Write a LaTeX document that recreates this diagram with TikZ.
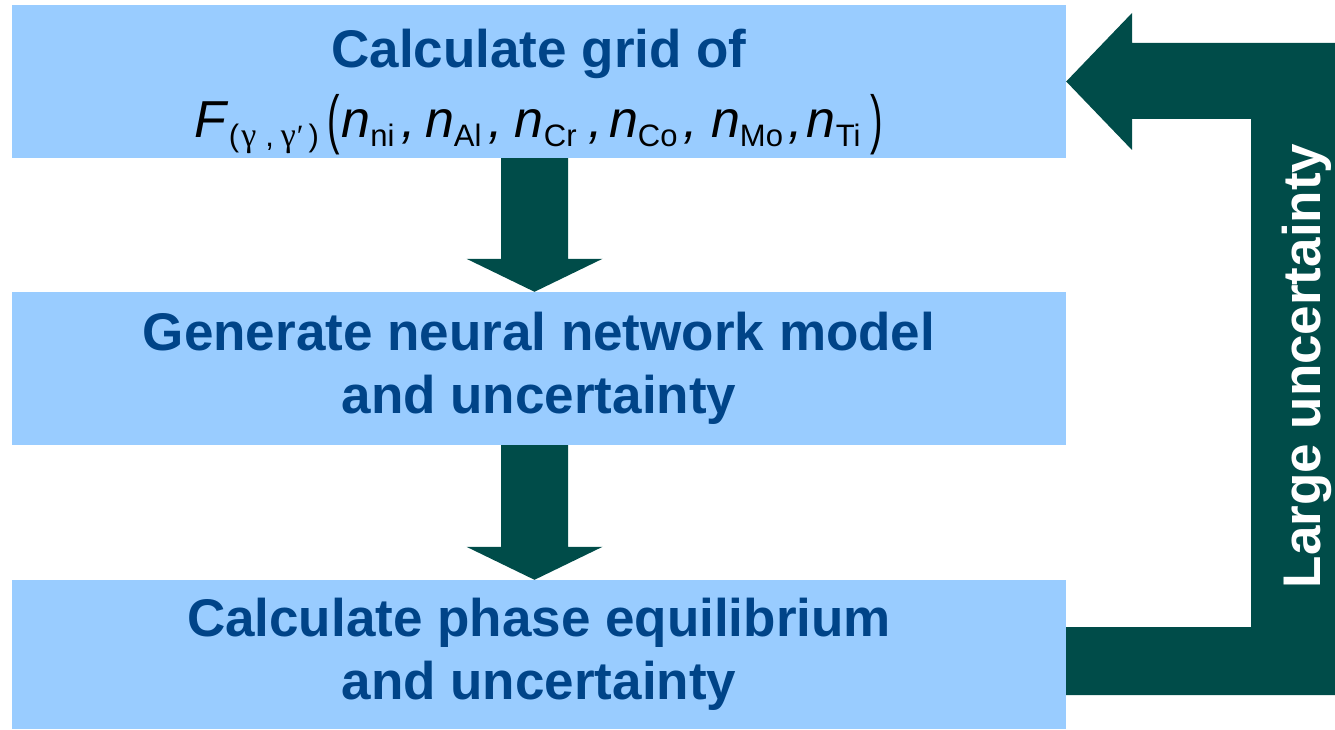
\documentclass[tikz,border=0pt]{standalone}
\usepackage{fontspec}
\usepackage{graphicx}
\setmainfont{Liberation Sans}
\newfontfamily\gfont{Liberation Serif}
\usetikzlibrary{calc}
\definecolor{boxblue}{HTML}{99CCFF}
\definecolor{txtblue}{HTML}{004488}
\definecolor{teal}{HTML}{004C49}
\newcommand\msub[1]{\raisebox{-9pt}{\fontsize{31}{31}\selectfont #1}}
\newcommand\mn{{\itshape n}}
\newcommand\mc{{\itshape ,}}
\newcommand\mg{{\gfont\fontsize{34}{34}\selectfont γ}}
\newcommand\bigp[1]{\raisebox{-4pt}{\scalebox{0.75}[1.3]{\fontsize{50}{50}\selectfont #1}}}
\begin{document}
\begin{tikzpicture}[x=1pt,y=-1pt,
  box/.style={fill=boxblue, draw=none, minimum width=1054pt, align=center,
    text=txtblue, font=\fontsize{53}{63}\selectfont\bfseries, inner sep=0pt},
  arr/.style={fill=teal, draw=none}]
\useasboundingbox (0,0) rectangle (1335,730);
\node[box, minimum height=153pt] (b1) at (539,81.5) {};
\node[box, minimum height=153pt] (b2) at (539,368.5) {Generate neural network model\\and uncertainty};
\node[box, minimum height=149pt] (b3) at (539,654.5) {Calculate phase equilibrium\\and uncertainty};
\node[anchor=base, text=txtblue, font=\fontsize{53}{63}\selectfont\bfseries, inner sep=0pt] (t1) at (539,68) {Calculate grid of};
\node[anchor=base west, text=black, font=\fontsize{52}{60}\selectfont, inner sep=0pt] (t2) at (194,138)
 {{\itshape F}\kern3pt\msub{(\kern2pt\mg\kern9pt,\kern7pt\mg\kern1pt{\gfont ′}\kern5pt)}\kern8pt\bigp{(}\kern2pt%
 \mn\msub{ni}\kern7pt\mc\kern9pt%
 \mn\msub{Al}\kern7pt\mc\kern12pt%
 \mn\msub{Cr}\kern12pt\mc\kern6pt%
 \mn\msub{Co}\kern6pt\mc\kern13pt%
 \mn\msub{Mo}\kern5.5pt\mc\kern4pt%
 \mn\msub{Ti}\kern10pt\bigp{)}};
% down arrows
\coordinate (a1s) at ($(b1.south)+(-4.5,0)$);
\coordinate (a1e) at ($(b2.north)+(-4.5,0)$);
\coordinate (a2s) at ($(b2.south)+(-4.5,0)$);
\coordinate (a2e) at ($(b3.north)+(-4.5,0)$);
\fill[arr] ($(a1s)+(-33.5,0)$) -- ($(a1s)+(33.5,0)$) -- ($(a1e)+(33.5,-33)$) -- ($(a1e)+(68,-33)$) -- (a1e) -- ($(a1e)+(-68,-33)$) -- ($(a1e)+(-33.5,-33)$) -- cycle;
\fill[arr] ($(a2s)+(-33.5,0)$) -- ($(a2s)+(33.5,0)$) -- ($(a2e)+(33.5,-33)$) -- ($(a2e)+(68,-33)$) -- (a2e) -- ($(a2e)+(-68,-33)$) -- ($(a2e)+(-33.5,-33)$) -- cycle;
% feedback arrow
\fill[arr] ($(b3.east)+(0,-27.5)$) -- (1251,627) -- (1251,119) -- (1132,119) -- (1132,150) -- (b1.east) -- (1132,13) -- (1132,43) -- (1335,43) -- (1335,695) -- ($(b3.east)+(0,40.5)$) -- cycle;
\node[rotate=90, anchor=base, text=white, font=\fontsize{53}{63}\selectfont\bfseries, inner sep=0pt] (lu) at (1320,366) {Large uncertainty};
\end{tikzpicture}
\end{document}
